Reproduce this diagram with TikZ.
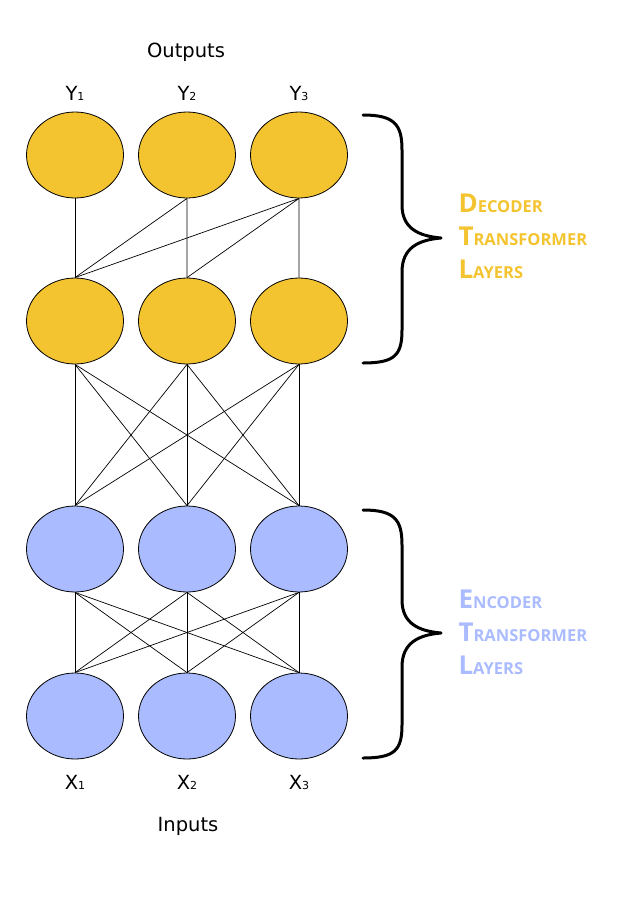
\documentclass[tikz,border=0pt]{standalone}
\usepackage{fontspec}
\setmainfont{DejaVu Sans}
\newfontfamily\bracefont{Open Sans}
\usetikzlibrary{shapes.geometric}

\definecolor{decyellow}{RGB}{244,196,48}
\definecolor{encblue}{RGB}{170,187,255}

% first letter large, rest as small capitals
\newcommand{\capword}[2]{{\fontsize{26}{26}\selectfont #1}{\fontsize{16.5}{16.5}\selectfont #2}}
% letter with a small index beside it
\newcommand{\unitlabel}[2]{#1{\fontsize{11}{11}\selectfont #2}}

\begin{document}
\begin{tikzpicture}[x=1pt, y=-1pt,
  unit/.style={ellipse, draw, line width=0.8pt, minimum width=97pt, minimum height=86pt, inner sep=0pt},
  dec/.style={unit, fill=decyellow},
  enc/.style={unit, fill=encblue},
  link/.style={line width=0.7pt},
  layerbrace/.style={line width=3pt, line cap=round, line join=round},
  textlabel/.style={anchor=base, font=\fontsize{19.5}{23}\selectfont},
  sidelabel/.style={anchor=base west, font=\bracefont\bfseries}
]
\useasboundingbox (0,0) rectangle (628,899);

% Decoder layers
\node[dec] (Y1) at (75,155) {};
\node[dec] (Y2) at (187,155) {};
\node[dec] (Y3) at (299,155) {};
\node[dec] (D1) at (75,321) {};
\node[dec] (D2) at (187,321) {};
\node[dec] (D3) at (299,321) {};

% Encoder layers
\node[enc] (E1) at (75,549) {};
\node[enc] (E2) at (187,549) {};
\node[enc] (E3) at (299,549) {};
\node[enc] (X1) at (75,716) {};
\node[enc] (X2) at (187,716) {};
\node[enc] (X3) at (299,716) {};

% Decoder links: each output sees itself and earlier positions
\draw[link] (Y1.south) -- (D1.north);
\draw[link] (Y2.south) -- (D1.north) (Y2.south) -- (D2.north);
\draw[link] (Y3.south) -- (D1.north) (Y3.south) -- (D2.north) (Y3.south) -- (D3.north);

% Full links between the other layers
\foreach \i in {1,2,3}
  \foreach \j in {1,2,3} {
    \draw[link] (D\i.south) -- (E\j.north);
    \draw[link] (E\i.south) -- (X\j.north);
  }

% Labels for outputs and inputs
\node[textlabel] (out) at (186,58) {Outputs};
\node[textlabel] (y1) at (75,100) {\unitlabel{Y}{1}};
\node[textlabel] (y2) at (187,100) {\unitlabel{Y}{2}};
\node[textlabel] (y3) at (299,100) {\unitlabel{Y}{3}};
\node[textlabel] (x1) at (75,789) {\unitlabel{X}{1}};
\node[textlabel] (x2) at (187,789) {\unitlabel{X}{2}};
\node[textlabel] (x3) at (299,789) {\unitlabel{X}{3}};
\node[textlabel] (in) at (188,831) {Inputs};

% Braces
\draw[layerbrace] (363,115) .. controls (395,115) and (402,125) .. (402,150) -- (402,205)
  .. controls (402,228) and (418,236) .. (441,238) .. controls (418,240) and (402,248) .. (402,272)
  -- (402,330) .. controls (402,355) and (395,363) .. (363,363);
\draw[layerbrace, shift={(0,395)}] (363,115) .. controls (395,115) and (402,125) .. (402,150) -- (402,205)
  .. controls (402,228) and (418,236) .. (441,238) .. controls (418,240) and (402,248) .. (402,272)
  -- (402,330) .. controls (402,355) and (395,363) .. (363,363);

% Brace texts
\node[sidelabel, text=decyellow] (decA) at (455,212) {\capword{D}{ECODER}};
\node[sidelabel, text=decyellow] (decB) at (455,245) {\capword{T}{RANSFORMER}};
\node[sidelabel, text=decyellow] (decC) at (455,278) {\capword{L}{AYERS}};
\node[sidelabel, text=encblue] (encA) at (455,608) {\capword{E}{NCODER}};
\node[sidelabel, text=encblue] (encB) at (455,641) {\capword{T}{RANSFORMER}};
\node[sidelabel, text=encblue] (encC) at (455,674) {\capword{L}{AYERS}};

\end{tikzpicture}
\end{document}
